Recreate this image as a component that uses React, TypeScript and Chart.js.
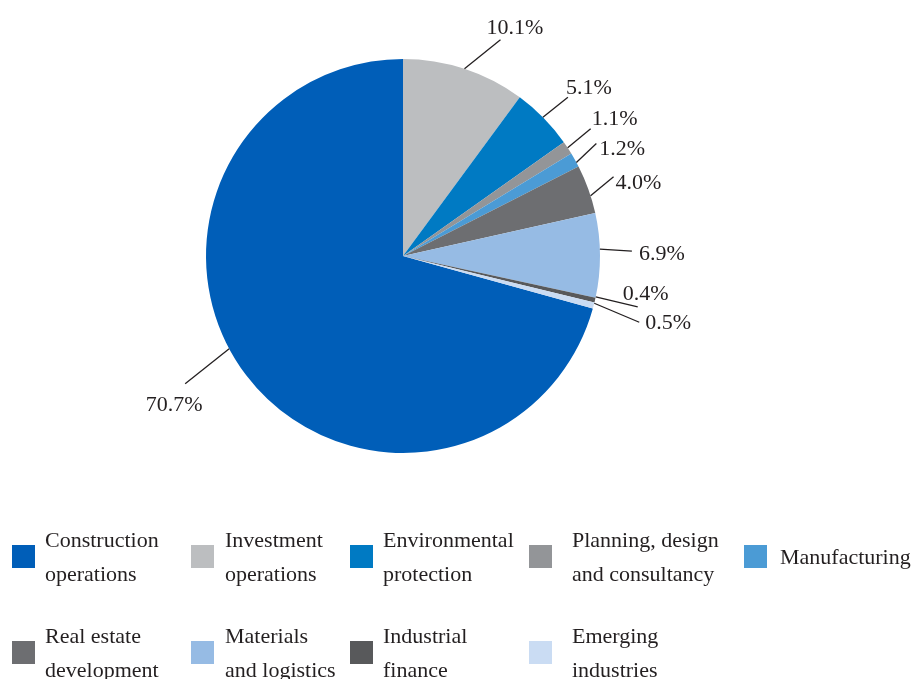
import React, { useEffect, useRef } from "react";
import { Chart, registerables } from "chart.js";

Chart.register(...registerables);

const CATEGORIES = [
  "Construction\noperations",
  "Investment\noperations",
  "Environmental\nprotection",
  "Planning, design\nand consultancy",
  "Manufacturing",
  "Real estate\ndevelopment",
  "Materials\nand logistics",
  "Industrial\nfinance",
  "Emerging\nindustries",
];
const VALUES = [70.7, 10.1, 5.1, 1.1, 1.2, 4.0, 6.9, 0.4, 0.5];
const VALUE_LABELS = ["70.7%", "10.1%", "5.1%", "1.1%", "1.2%", "4.0%", "6.9%", "0.4%", "0.5%"];
const COLORS = [
  "#005EB8",
  "#BCBEC0",
  "#007AC3",
  "#939598",
  "#4B9BD5",
  "#6D6E71",
  "#96BBE4",
  "#58595B",
  "#CADCF3",
];

// leader-line layout: angle shift (deg), line vector, text offset & alignment
const LEADERS = [
  { shift: 9.2, dx: -44, dy: 35, tx: -11, ty: 19, align: "center" },
  { shift: 0, dx: 36, dy: -29, tx: -14, ty: -14, align: "left" },
  { shift: -0.3, dx: 25, dy: -20, tx: -2, ty: -11.5, align: "left" },
  { shift: 0, dx: 23, dy: -19, tx: 1, ty: -12, align: "left" },
  { shift: 0.8, dx: 20, dy: -19, tx: 3, ty: 4, align: "left" },
  { shift: 2, dx: 23, dy: -19, tx: 2, ty: 4, align: "left" },
  { shift: -1.8, dx: 32, dy: 2, tx: 7, ty: 1, align: "left" },
  { shift: -1, dx: 42, dy: 10, tx: -15, ty: -14.5, align: "left" },
  { shift: -0.7, dx: 45, dy: 19, tx: 6, ty: -1, align: "left" },
];

// legend layout: [squareLeft, textLeft, squareTop]
const LEGEND_POS = [
  [12, 45, 545],
  [191, 225, 545],
  [350, 383, 545],
  [529, 572, 545],
  [744, 780, 545],
  [12, 45, 641],
  [191, 225, 641],
  [350, 383, 641],
  [529, 572, 641],
];

const FONT = "'Liberation Serif', 'Times New Roman', serif";
const TEXT_COLOR = "#231F20";

const leaderPlugin = {
  id: "leaders",
  afterDraw(chart: any) {
    const ctx = chart.ctx;
    const meta = chart.getDatasetMeta(0);
    ctx.save();
    ctx.font = `22px ${FONT}`;
    ctx.fillStyle = TEXT_COLOR;
    ctx.strokeStyle = TEXT_COLOR;
    ctx.lineWidth = 1.3;
    ctx.textBaseline = "alphabetic";
    meta.data.forEach((arc: any, i: number) => {
      const L = LEADERS[i];
      const { x, y, startAngle, endAngle, outerRadius } = arc.getProps(
        ["x", "y", "startAngle", "endAngle", "outerRadius"],
        true
      );
      const a = (startAngle + endAngle) / 2 + (L.shift * Math.PI) / 180;
      const sx = x + outerRadius * Math.cos(a);
      const sy = y + outerRadius * Math.sin(a);
      const ex = sx + L.dx;
      const ey = sy + L.dy;
      ctx.beginPath();
      ctx.moveTo(sx, sy);
      ctx.lineTo(ex, ey);
      ctx.stroke();
      ctx.textAlign = L.align;
      ctx.fillText(VALUE_LABELS[i], ex + L.tx, ey + L.ty + 8);
    });
    ctx.restore();
  },
};

export default function App() {
  const ref = useRef<HTMLCanvasElement | null>(null);
  useEffect(() => {
    if (!ref.current) return;
    const chart = new Chart(ref.current, {
      type: "pie",
      data: {
        labels: CATEGORIES,
        datasets: [
          {
            data: VALUES,
            backgroundColor: COLORS,
            borderWidth: 0,
            radius: 197,
          } as any,
        ],
      },
      options: {
        animation: false,
        responsive: false,
        rotation: -254.52,
        layout: { padding: { left: 206, top: 59, right: 317, bottom: 226 } },
        plugins: {
          legend: { display: false },
          tooltip: { enabled: false },
        },
      } as any,
      plugins: [leaderPlugin],
    });
    return () => chart.destroy();
  }, []);

  return (
    <div
      style={{
        position: "absolute",
        left: 0,
        top: 0,
        width: 917,
        height: 679,
        overflow: "hidden",
        background: "#fff",
        fontFamily: FONT,
        color: TEXT_COLOR,
      }}
    >
      <canvas ref={ref} width={917} height={679} style={{ position: "absolute", left: 0, top: 0 }} />
      {CATEGORIES.map((c, i) => {
        const [sq, tx, top] = LEGEND_POS[i];
        const lines = c.split("\n");
        const blockH = lines.length * 34;
        return (
          <React.Fragment key={i}>
            <div
              style={{
                position: "absolute",
                left: sq,
                top: top,
                width: 23,
                height: 23,
                background: COLORS[i],
              }}
            />
            <div
              style={{
                position: "absolute",
                left: tx,
                top: top + 11.5 - blockH / 2,
                fontSize: 22,
                lineHeight: "34px",
                whiteSpace: "nowrap",
              }}
            >
              {lines.map((l, j) => (
                <div key={j}>{l}</div>
              ))}
            </div>
          </React.Fragment>
        );
      })}
    </div>
  );
}
